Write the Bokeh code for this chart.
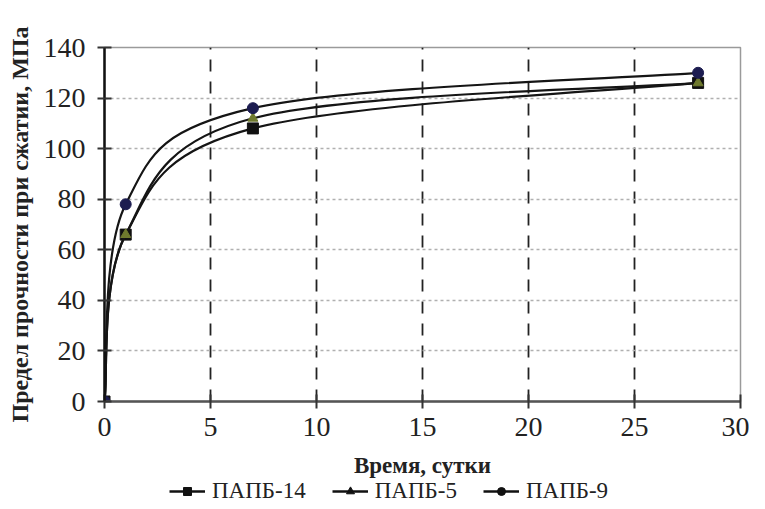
from bokeh.plotting import figure
from bokeh.models import Legend, LegendItem, ColumnDataSource, Range1d, FixedTicker, Title
from bokeh.layouts import column
from bokeh.embed import file_html
from bokeh.resources import INLINE

days = [0, 1, 7, 28]
papb14 = [0, 66, 108, 126]
papb5 = [0, 66, 112, 126]
papb9 = [0, 78, 116, 130]
series_names = ["ПАПБ-14", "ПАПБ-5", "ПАПБ-9"]
x_ticks = [0, 5, 10, 15, 20, 25, 30]
y_ticks = [0, 20, 40, 60, 80, 100, 120, 140]
x_title = "Время, сутки"
y_title = "Предел прочности при сжатии, МПа"

FONT = "Liberation Serif"

p = figure(width=749, height=448, output_backend="svg", toolbar_location=None,
           x_range=Range1d(0, 30), y_range=Range1d(0, 140),
           min_border_left=104, min_border_right=9, min_border_top=47, min_border_bottom=47)
p.background_fill_color = "white"
p.outline_line_color = "#9a9a9a"
p.outline_line_width = 1.5

# grids
p.xgrid.ticker = FixedTicker(ticks=[5, 10, 15, 20, 25])
p.xgrid.grid_line_color = "#222222"
p.xgrid.grid_line_dash = "12 10"
p.xgrid.grid_line_width = 1.8
p.ygrid.ticker = FixedTicker(ticks=[20, 40, 60, 80, 100, 120])
p.ygrid.grid_line_color = "#b0b0b0"
p.ygrid.grid_line_dash = "3 3"
p.ygrid.grid_line_width = 1.5

for ax in (p.xaxis[0], p.yaxis[0]):
    ax.axis_line_color = "#555555" if ax is p.xaxis[0] else "#111111"
    ax.axis_line_width = 2.5
    ax.major_tick_in = 7
    ax.major_tick_out = 7
    ax.major_tick_line_width = 2
    ax.major_tick_line_color = "#333333"
    ax.minor_tick_line_color = None
    ax.major_label_text_font = FONT
    ax.major_label_text_font_size = "28px"
    ax.major_label_text_color = "#222222"
    ax.axis_label_text_font = FONT
    ax.axis_label_text_font_style = "bold"
    ax.axis_label_text_color = "#222222"

p.xaxis.ticker = FixedTicker(ticks=x_ticks)
p.yaxis.ticker = FixedTicker(ticks=y_ticks)
p.yaxis.axis_label = y_title
p.yaxis.axis_label_text_font_size = "24px"
p.xaxis.major_label_standoff = 9
p.yaxis.major_label_standoff = 12
p.yaxis.axis_label_standoff = 8


def smooth_bezier(xs, ys):
    # Excel-style smoothed line: cubic Bezier segments with Catmull-Rom control points
    n = len(xs)
    x0, y0, x1, y1, cx0, cy0, cx1, cy1 = ([] for _ in range(8))
    for i in range(n - 1):
        pm = i - 1 if i > 0 else i
        pp = i + 2 if i + 2 < n else i + 1
        x0.append(xs[i]); y0.append(ys[i])
        x1.append(xs[i + 1]); y1.append(ys[i + 1])
        cx0.append(xs[i] + (xs[i + 1] - xs[pm]) / 6.0)
        cy0.append(ys[i] + (ys[i + 1] - ys[pm]) / 6.0)
        cx1.append(xs[i + 1] - (xs[pp] - xs[i]) / 6.0)
        cy1.append(ys[i + 1] - (ys[pp] - ys[i]) / 6.0)
    return dict(x0=x0, y0=y0, x1=x1, y1=y1, cx0=cx0, cy0=cy0, cx1=cx1, cy1=cy1)


series = [papb14, papb5, papb9]
markers = ["square", "triangle", "circle"]
mcolors = ["#111111", "#6f7a2e", "#1c1c50"]
msizes = [11, 10, 11]
for name, vals, mk, mc, ms in zip(series_names, series, markers, mcolors, msizes):
    src = ColumnDataSource(smooth_bezier(days, vals))
    p.bezier(x0="x0", y0="y0", x1="x1", y1="y1", cx0="cx0", cy0="cy0", cx1="cx1", cy1="cy1",
             source=src, line_color="#151515", line_width=2.2)
    p.scatter(days, vals, marker=mk, size=ms, fill_color=mc, line_color=mc)

# strip below the chart: x-axis title and the legend
lg = figure(width=749, height=60, output_backend="svg", toolbar_location=None,
            x_range=Range1d(0, 1), y_range=Range1d(0, 1),
            min_border_left=0, min_border_right=0, min_border_top=0, min_border_bottom=0)
lg.axis.visible = False
lg.grid.visible = False
lg.outline_line_color = None
lg.add_layout(Title(text=x_title, align="center", text_font=FONT, text_font_style="bold",
                    text_font_size="23px", text_color="#222222", standoff=4, offset=0), "above")
items = []
leg_sizes = [9, 6, 8]
for name, vals, mk, ls in zip(series_names, series, markers, leg_sizes):
    r_line = lg.line(days, vals, line_color="#111111", line_width=2.5, visible=False)
    r_mark = lg.scatter(days, vals, marker=mk, size=ls, fill_color="#111111",
                        line_color="#111111", visible=False)
    items.append(LegendItem(label=name, renderers=[r_line, r_mark]))

legend = Legend(items=items, orientation="horizontal", location=(65, 4),
                label_text_font=FONT, label_text_font_size="23px",
                label_text_color="#222222",
                glyph_width=36, glyph_height=20, spacing=26, label_standoff=7,
                border_line_color=None, background_fill_alpha=0, inactive_fill_alpha=0,
                padding=0, margin=0)
lg.add_layout(legend, "center")

layout = column(p, lg, spacing=0)
open("out.html", "w").write(file_html(layout, INLINE))
